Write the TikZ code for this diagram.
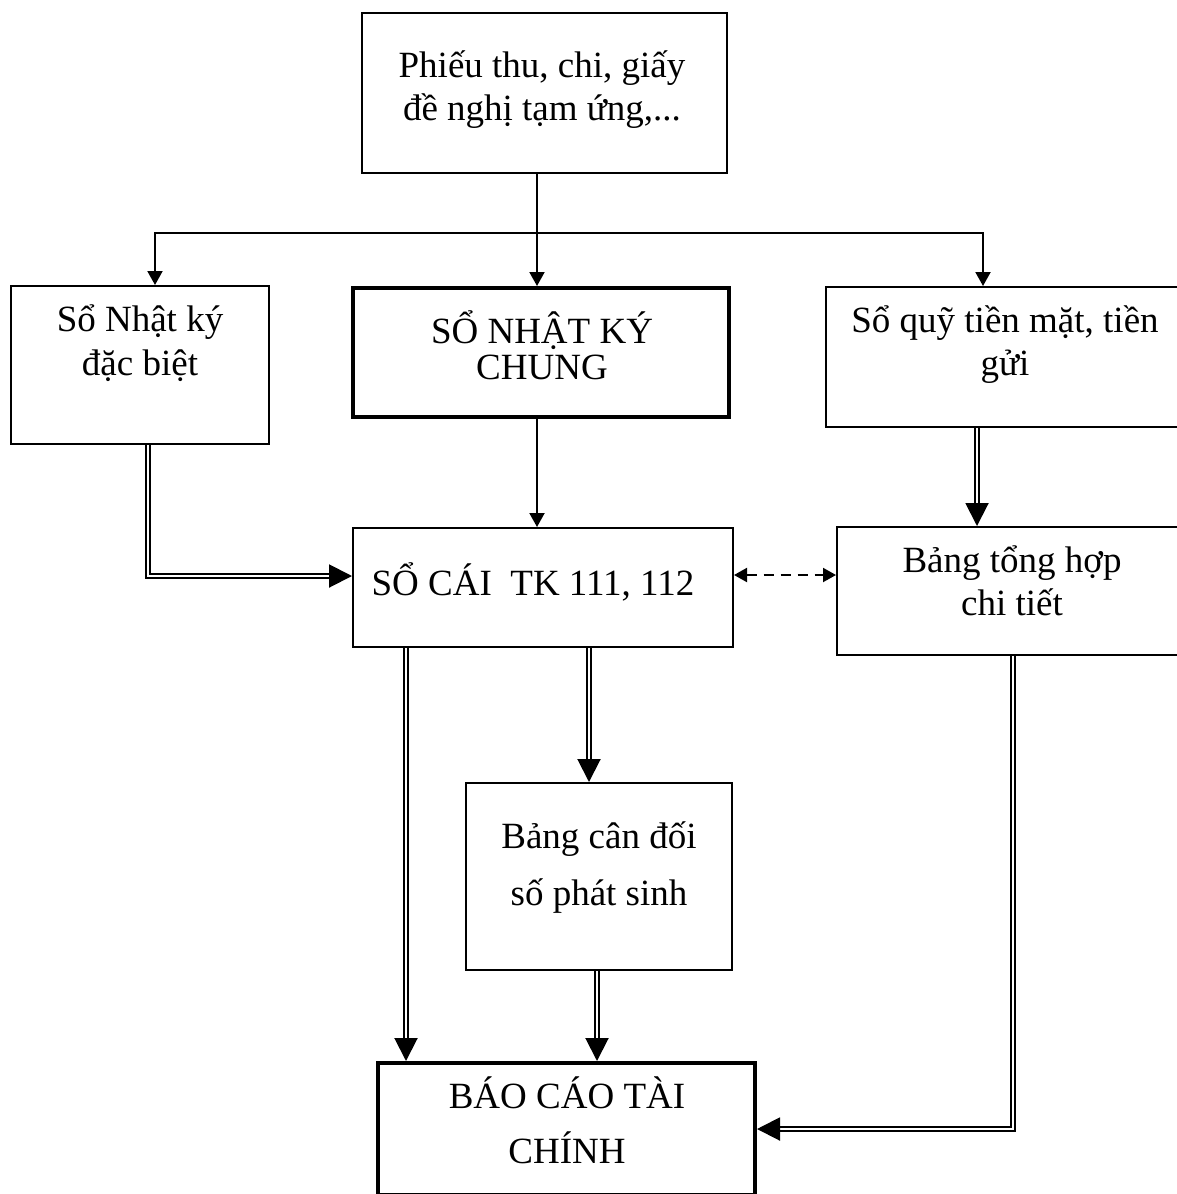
\documentclass[tikz,border=0pt]{standalone}
\usepackage{fontspec}
\setmainfont{Liberation Serif}
\usetikzlibrary{arrows.meta,calc}
\begin{document}
\begin{tikzpicture}[x=1pt,y=-1pt,
  frame/.style={draw, line width=2pt, inner sep=0pt},
  thickframe/.style={draw, line width=4pt, inner sep=0pt},
  txt/.style={font=\fontsize{37}{43}\selectfont, align=center, inner sep=0pt, anchor=base},
  wire/.style={line width=2pt},
  link/.style={line width=2pt, -{Triangle[length=14pt,width=15pt]}},
  forktips/.style={line width=2pt, line join=miter, {Triangle[length=14pt,width=15pt]}-{Triangle[length=14pt,width=15pt]}},
  dbl/.style={double, double distance=2pt, line width=2pt, line join=miter},
  dblarrow/.style={dbl, -{Triangle[length=23pt,width=23pt]}},
  dashlink/.style={line width=2pt, dash pattern=on 10pt off 7pt,
    {Triangle[length=13pt,width=14pt]}-{Triangle[length=13pt,width=14pt]}}
]
\useasboundingbox (0,0) rectangle (1177,1194);

% boxes
\node[frame, minimum width=365pt, minimum height=160pt] (top) at (544.5,93) {};
\node[frame, minimum width=258pt, minimum height=158pt] (nkdb) at (140,365) {};
\node[thickframe, minimum width=376pt, minimum height=129pt] (nkc) at (541,352.5) {};
\node[frame, minimum width=358pt, minimum height=140pt] (quy) at (1005,357) {};
\node[frame, minimum width=380pt, minimum height=119pt] (socai) at (543,587.5) {};
\node[frame, minimum width=350pt, minimum height=128pt] (tonghop) at (1012,591) {};
\node[frame, minimum width=266pt, minimum height=187pt] (cando) at (599,876.5) {};
\node[thickframe, minimum width=377pt, minimum height=132pt] (baocao) at (566.5,1129) {};

% texts (positioned by the baseline of their last line)
\node[txt] (top-t) at (542,120) {Phiếu thu, chi, giấy\\đề nghị tạm ứng,...};
\node[txt, font=\fontsize{37}{44}\selectfont] (nkdb-t) at (140,375) {Sổ Nhật ký\\đặc biệt};
\node[txt, font=\fontsize{37}{36}\selectfont] (nkc-t) at (542,379) {SỔ NHẬT KÝ\\CHUNG};
\node[txt] (quy-t) at (1005,375) {Sổ quỹ tiền mặt, tiền\\gửi};
\node[txt] (socai-t) at (533,595) {SỔ CÁI\ \ TK 111, 112};
\node[txt] (tonghop-t) at (1012,615) {Bảng tổng hợp\\chi tiết};
\node[txt, font=\fontsize{37}{57}\selectfont] (cando-t) at (599,905) {Bảng cân đối\\số phát sinh};
\node[txt, font=\fontsize{37}{55}\selectfont] (baocao-t) at (567,1163) {BÁO CÁO TÀI\\CHÍNH};

% fork from the source documents
\coordinate (jl) at (155,233);
\coordinate (jm) at (537,233);
\coordinate (jr) at (983,233);
\draw[forktips] (jl |- nkdb.north) -- (jl) -- (jr) -- (jr |- quy.north);
\draw[link] (jm |- top.south) -- (jm |- nkc.north);
\draw[link] (jm |- nkc.south) -- (jm |- socai.north);

% double-line flows
\coordinate (c1) at (148,576);
\draw[dblarrow] (c1 |- nkdb.south) -- (c1) -- (c1 -| socai.west);
\coordinate (c2) at (977,0);
\draw[dblarrow] (c2 |- quy.south) -- (c2 |- tonghop.north);
\coordinate (c3) at (406,0);
\draw[dblarrow] (c3 |- socai.south) -- (c3 |- baocao.north);
\coordinate (c4) at (589,0);
\draw[dblarrow] (c4 |- socai.south) -- (c4 |- cando.north);
\coordinate (c5) at (597,0);
\draw[dblarrow] (c5 |- cando.south) -- (c5 |- baocao.north);
\coordinate (c6) at (1013,1129);
\draw[dblarrow] (c6 |- tonghop.south) -- (c6) -- (c6 -| baocao.east);

% cross-check link
\coordinate (dy) at (0,575);
\draw[dashlink] (socai.east |- dy) -- (tonghop.west |- dy);
\end{tikzpicture}
\end{document}
